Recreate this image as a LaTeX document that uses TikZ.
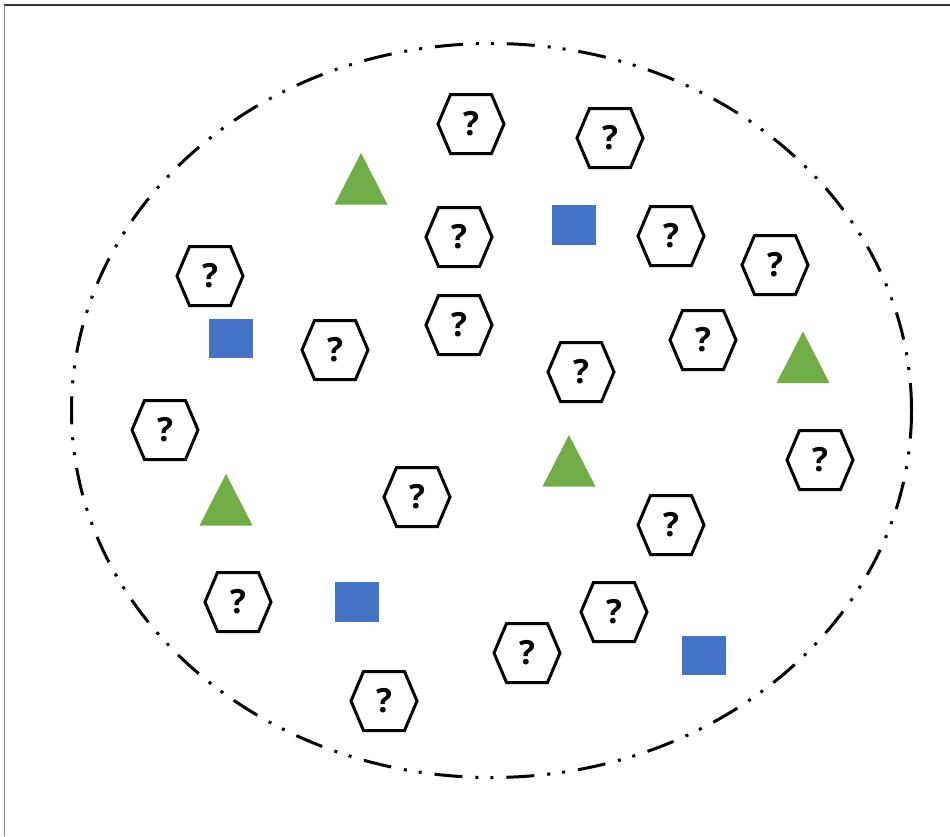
\documentclass[tikz,border=0pt]{standalone}
\usepackage{fontspec}
\setmainfont{Open Sans}
\usetikzlibrary{positioning}
\definecolor{squareblue}{RGB}{68,114,196}
\definecolor{trianglegreen}{RGB}{112,173,71}
\definecolor{frametop}{RGB}{50,50,50}
\definecolor{frameleft}{RGB}{130,130,130}
\tikzset{
  qmark/.style={font=\bfseries\fontsize{25}{25}\selectfont,inner sep=0pt},
  hexline/.style={draw=black,line width=2.25pt,line join=miter},
  bluebox/.style={fill=squareblue,minimum width=33pt,minimum height=29.5pt,inner sep=0pt},
  regionline/.style={line width=2.25pt,dash pattern=on 21pt off 9.75pt on 2.25pt off 9pt on 2.25pt off 9.75pt}
}
\newcommand{\hexcell}[3]{\node[qmark] (#1) at (#2,#3) {?};
  \draw[hexline] (#1.center) ++(-33,0) -- ++(12.5,-29.5) -- ++(41,0) -- ++(12.5,29.5) -- ++(-12.5,29.5) -- ++(-41,0) -- cycle;}
\newcommand{\greentriangle}[2]{\fill[trianglegreen] (#1,#2) -- ++(26.5,51.5) -- ++(-53,0) -- cycle;}
\newcommand{\bluesquare}[3]{\node[bluebox] (#1) at (#2,#3) {};}

\begin{document}
\begin{tikzpicture}[x=0.75pt,y=-0.75pt]
		\useasboundingbox (0,0) rectangle (950,836);
		\draw[frametop,line width=1.2pt] (4,5) -- (950,5);
		\draw[frameleft,line width=1.2pt] (4.5,5) -- (4.5,836);
		\draw[regionline] (491.5,410.5) ellipse [x radius=420,y radius=367];
		% unknown samples
		\hexcell{h1}{471}{124} \hexcell{h2}{610}{138} \hexcell{h3}{459}{237} \hexcell{h4}{671}{236}
		\hexcell{h5}{775}{265} \hexcell{h6}{210}{276} \hexcell{h7}{459}{325} \hexcell{h8}{703}{340}
		\hexcell{h9}{335}{350} \hexcell{h10}{581}{372} \hexcell{h11}{165}{430} \hexcell{h12}{820}{460}
		\hexcell{h13}{417}{497} \hexcell{h14}{671}{525} \hexcell{h15}{238}{602} \hexcell{h16}{614}{612}
		\hexcell{h17}{527}{653} \hexcell{h18}{384}{701}
		% labelled samples
		\bluesquare{s1}{574}{225} \bluesquare{s2}{231}{338.5} \bluesquare{s3}{356.5}{602} \bluesquare{s4}{704}{655.5}
		\greentriangle{361}{153} \greentriangle{803}{331.5} \greentriangle{569}{435} \greentriangle{226}{474}
\end{tikzpicture}
\end{document}
